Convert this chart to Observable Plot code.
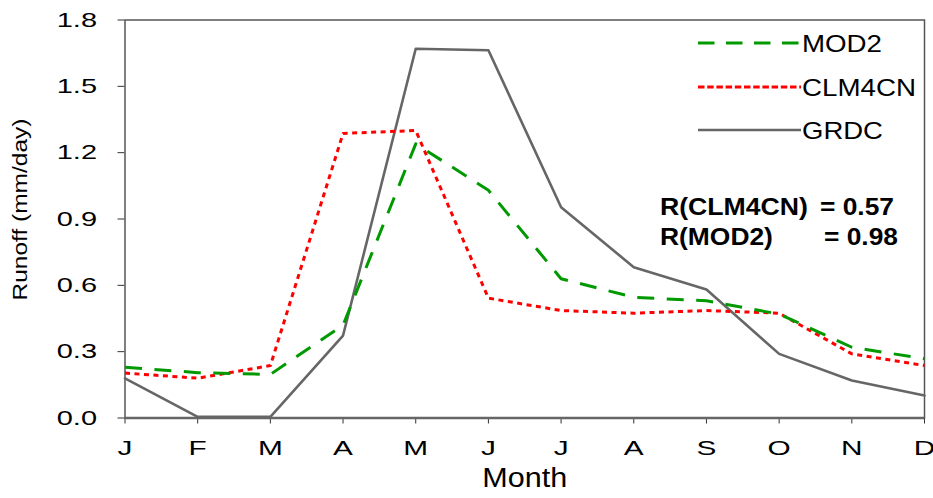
<!DOCTYPE html>
<html>
<head>
<meta charset="utf-8">
<script src="https://cdn.jsdelivr.net/npm/d3@7"></script>
<script src="https://cdn.jsdelivr.net/npm/@observablehq/plot@0.6"></script>
<style>
  html, body { margin: 0; padding: 0; background: #fff; }
  #wrap { position: relative; width: 933px; height: 498px; overflow: hidden; }
  #legend { position: absolute; left: 0; top: 0; pointer-events: none; }
  text { font-family: "Liberation Sans", Arial, sans-serif; }
</style>
</head>
<body>
<div id="wrap"></div>
<script>
// ---- data ----
const monthLabels = ["J", "F", "M", "A", "M", "J", "J", "A", "S", "O", "N", "D"];
const mod2   = [0.230, 0.205, 0.197, 0.420, 1.240, 1.030, 0.630, 0.546, 0.530, 0.470, 0.320, 0.268];
const clm4cn = [0.203, 0.180, 0.237, 1.287, 1.300, 0.542, 0.486, 0.474, 0.486, 0.474, 0.290, 0.237];
const grdc   = [0.179, 0.005, 0.005, 0.373, 1.670, 1.663, 0.953, 0.682, 0.581, 0.290, 0.170, 0.102];
const yTicks = [0, 0.3, 0.6, 0.9, 1.2, 1.5, 1.8];
const seriesNames = ["MOD2", "CLM4CN", "GRDC"];
const rLabels = ["R(CLM4CN)", "R(MOD2)"];
const rValues = ["= 0.57", "= 0.98"];
const yTitle = "Runoff (mm/day)";
const xTitle = "Month";

const toRows = (vals, name) => vals.map((v, i) => ({month: i, value: v, series: name}));
const rowsMod2 = toRows(mod2, "MOD2");
const rowsClm = toRows(clm4cn, "CLM4CN");
const rowsGrdc = toRows(grdc, "GRDC");

const FONT = '"Liberation Sans", Arial, sans-serif';

const chart = Plot.plot({
  width: 933,
  height: 498,
  marginLeft: 124.5,
  marginRight: 9,
  marginTop: 19.5,
  marginBottom: 80.5,
  style: {fontFamily: FONT, fontSize: "21px", color: "#000", background: "#fff", overflow: "visible"},
  x: {domain: [0, 11], axis: null},
  y: {domain: [0, 1.8], axis: null},
  marks: [
    Plot.axisY({ticks: yTicks, tickFormat: d3.format(".1f"), tickSize: 7, tickPadding: 21, label: null, fontSize: 21, stroke: "#333", fontVariant: "normal"}),
    Plot.axisX({ticks: d3.range(12), tickFormat: i => monthLabels[i], tickSize: 6, tickPadding: 16, label: null, fontSize: 21, stroke: "#333", fontVariant: "normal"}),
    Plot.frame({stroke: "#555", strokeWidth: 1.5}),
    Plot.ruleY([0], {stroke: "#666", strokeWidth: 2.5}),
    Plot.line(rowsGrdc, {x: "month", y: "value", stroke: "#666666", strokeWidth: 2.6}),
    Plot.line(rowsClm, {x: "month", y: "value", stroke: "#ff0000", strokeWidth: 3, strokeDasharray: "5,4.5", strokeLinecap: "butt"}),
    Plot.line(rowsMod2, {x: "month", y: "value", stroke: "#009a00", strokeWidth: 3, strokeDasharray: "17,12.5", strokeLinecap: "butt"}),
    Plot.text([yTitle], {frameAnchor: "left", textAnchor: "middle", rotate: -90, dx: -104.5, dy: -9.5, fontSize: 21, fill: "#000"}),
    Plot.text([xTitle], {frameAnchor: "bottom", textAnchor: "middle", dy: 68.5, fontSize: 28, fill: "#000"})
  ]
});

const wrap = document.getElementById("wrap");
wrap.appendChild(chart);

// widen glyphs along the text direction about the text anchor (local x = 0)
function widen(t, s) {
  const T = t.getAttribute("transform") || "";
  t.setAttribute("transform", `${T} scale(${s.toFixed(4)},1)`);
}
chart.querySelectorAll('g[aria-label="y-axis tick label"] text').forEach(t => widen(t, 1.38));
chart.querySelectorAll('g[aria-label="x-axis tick label"] text').forEach(t => widen(t, 1.42));
chart.querySelectorAll('g[aria-label="text"] text').forEach(t => {
  const target = t.textContent === yTitle ? 182 : (t.textContent === xTitle ? 85 : null);
  const L = t.getComputedTextLength();
  if (target && L > 0) widen(t, target / L);
});

// ---- legend & correlation annotation (overlay) ----
const ns = "http://www.w3.org/2000/svg";
const leg = document.createElementNS(ns, "svg");
leg.setAttribute("id", "legend");
leg.setAttribute("width", 933);
leg.setAttribute("height", 498);
wrap.appendChild(leg);
const legStyles = [
  {stroke: "#009a00", dash: "16.5,11.5", w: 3},
  {stroke: "#ff0000", dash: "6.5,2.7", w: 3},
  {stroke: "#666666", dash: null, w: 2.6}
];
const legY = [43, 87, 130];
const legTextLen = [80, 114, 81];
function addText(str, x, y, size, bold, targetLen) {
  const t = document.createElementNS(ns, "text");
  t.setAttribute("transform", `translate(${x},${y})`);
  t.setAttribute("font-size", size);
  if (bold) t.setAttribute("font-weight", "bold");
  t.setAttribute("fill", "#000");
  t.textContent = str;
  leg.appendChild(t);
  const L = t.getComputedTextLength();
  if (L > 0) widen(t, targetLen / L);
}
seriesNames.forEach((name, i) => {
  const ln = document.createElementNS(ns, "line");
  ln.setAttribute("x1", 698); ln.setAttribute("x2", 801);
  ln.setAttribute("y1", legY[i]); ln.setAttribute("y2", legY[i]);
  ln.setAttribute("stroke", legStyles[i].stroke);
  ln.setAttribute("stroke-width", legStyles[i].w);
  if (legStyles[i].dash) ln.setAttribute("stroke-dasharray", legStyles[i].dash);
  leg.appendChild(ln);
  addText(name, 802, legY[i] + 9, 23, false, legTextLen[i]);
});
const rY = [215, 245];
const rLeftLen = [148, 113];
const rRightX = [820, 824];
rLabels.forEach((lab, i) => {
  addText(lab, 660, rY[i], 24, true, rLeftLen[i]);
  addText(rValues[i], rRightX[i], rY[i], 24, true, 74);
});
</script>
</body>
</html>
